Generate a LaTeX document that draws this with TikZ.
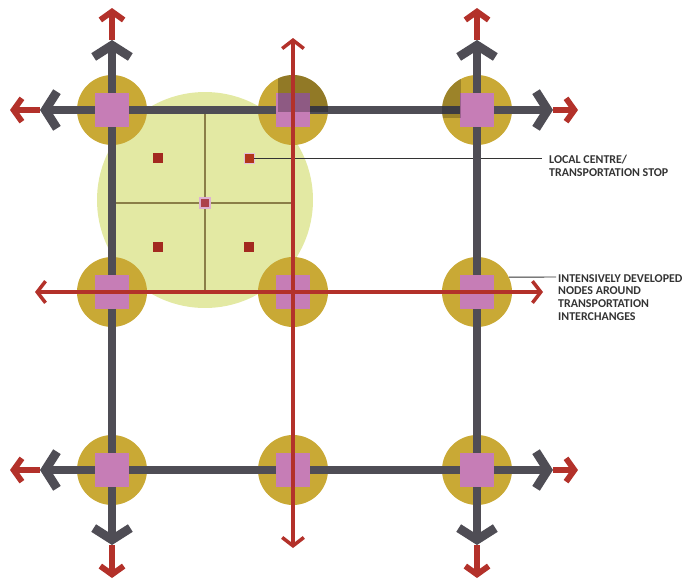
\documentclass[tikz,border=0pt]{standalone}
\usepackage{fontspec}
\setmainfont{Carlito}
\usetikzlibrary{arrows.meta}

\definecolor{roadgray}{HTML}{4F4D55}
\definecolor{linered}{HTML}{B3312A}
\definecolor{hubgold}{HTML}{C9A935}
\definecolor{hubpink}{HTML}{C67DB6}
\definecolor{localgreen}{HTML}{E3E9A3}
\definecolor{stopred}{HTML}{A3291F}
\definecolor{gridolive}{HTML}{8B7E47}
\definecolor{labelgray}{HTML}{333333}

\tikzset{
  gchev/.tip={Straight Barb[length=3.5mm,width=11mm]},
  rchev/.tip={Straight Barb[length=2.5mm,width=7mm]},
  tchev/.tip={Straight Barb[length=2.5mm,width=6.5mm]},
  road/.style={draw=roadgray, line width=7.6pt, gchev-gchev},
  transit/.style={draw=linered, line width=3pt, tchev-tchev},
  stub/.style={draw=linered, line width=5pt, -rchev},
  hub/.style={circle, fill=hubgold, minimum size=2.1cm, inner sep=0pt},
  core/.style={fill=hubpink, minimum size=1cm, inner sep=0pt},
  stop/.style={fill=stopred, minimum size=0.3cm, inner sep=0pt},
  local/.style={draw=gridolive, line width=1.2pt},
  leader/.style={draw=labelgray, line width=0.8pt},
  label/.style={anchor=north west, align=left, inner sep=0pt, text=labelgray,
    font=\fontsize{10.2}{10.9}\selectfont\bfseries}
}

\begin{document}
\begin{tikzpicture}[x=0.03cm, y=-0.03cm]
  \useasboundingbox (0,0) rectangle (686,583);

  % zone du centre local
  \fill[localgreen] (205,200) circle[radius=108];
  \coordinate (ln) at (205,110);
  \coordinate (ls) at (205,292);
  \coordinate (lw) at (112,203);
  \coordinate (le) at (293,203);
  \draw[local] (ln) -- (ls);
  \draw[local] (lw) -- (le);

  % arrets
  \node[stop] (s1) at (158,158) {};
  \node[stop, fill=stopred!85!orange, draw=hubpink!50!white, line width=0.8pt] (s2) at (249,158) {};
  \node[stop] (s3) at (158,247) {};
  \node[stop] (s4) at (249,247) {};
  \node[stop, fill=stopred!70!hubpink, draw=hubpink!60!white, line width=1.5pt] (s0) at (205,203) {};

  % etiquette du centre local
  \coordinate (lcend) at (542,158);
  \draw[leader] (s2) -- (lcend);

  % poles
  \foreach \c/\x in {1/112, 2/293, 3/477}
    \foreach \r/\y in {1/110, 2/292, 3/470}
      \node[hub] (h\r\c) at (\x,\y) {};

  % extremites des routes
  \coordinate (w1) at (40,110);   \coordinate (w1x) at (10,110);
  \coordinate (e1) at (553,110);  \coordinate (e1x) at (578,110);
  \coordinate (w3) at (40,470);   \coordinate (w3x) at (10,470);
  \coordinate (e3) at (553,470);  \coordinate (e3x) at (578,470);
  \coordinate (n1) at (112,40);   \coordinate (n1x) at (112,8);
  \coordinate (n3) at (477,40);   \coordinate (n3x) at (477,8);
  \coordinate (b1) at (112,545);  \coordinate (b1x) at (112,578);
  \coordinate (b3) at (477,545);  \coordinate (b3x) at (477,578);

  % routes
  \draw[road] (w1) -- (h11.center) -- (h12.center) -- (h13.center) -- (e1);
  \draw[road] (w3) -- (h31.center) -- (h32.center) -- (h33.center) -- (e3);
  \draw[road] (n1) -- (h11.center) -- (h21.center) -- (h31.center) -- (b1);
  \draw[road] (n3) -- (h13.center) -- (h23.center) -- (h33.center) -- (b3);
  \foreach \a in {w1, e1, w3, e3, n1, n3, b1, b3}
    \draw[stub] (\a) -- (\a x);

  % carres des poles
  \foreach \r in {1,2,3}
    \foreach \c in {1,2,3}
      \node[core] (c\r\c) at (h\r\c) {};

  % parties plus sombres en haut
  \begin{scope}
    \clip (293,110) circle[radius=35];
    \fill[black, opacity=0.28] (278,70) rectangle (335,112);
  \end{scope}
  \begin{scope}
    \clip (477,110) circle[radius=35];
    \fill[black, opacity=0.22] (435,70) rectangle (461,118);
  \end{scope}

  % lignes de transport
  \coordinate (tw) at (35,292);
  \coordinate (te) at (543,292);
  \coordinate (tn) at (293,38);
  \coordinate (tb) at (293,548);
  \draw[transit] (tw) -- (h21.center) -- (h22.center) -- (h23.center) -- (te);
  \draw[transit] (tn) -- (h12.center) -- (h22.center) -- (h32.center) -- (tb);

  % etiquettes
  \node[label] (lc) at (549,155) {LOCAL CENTRE/\\TRANSPORTATION STOP};
  \coordinate (ihend) at (556,277);
  \draw[leader] (h23.25) -- (ihend);
  \node[label] (ih) at (558,274) {INTENSIVELY DEVELOPED\\NODES AROUND\\TRANSPORTATION\\INTERCHANGES};
\end{tikzpicture}
\end{document}
